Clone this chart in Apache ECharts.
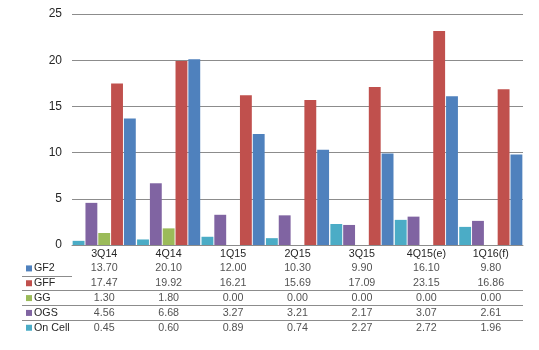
<!DOCTYPE html>
<html>
<head>
<meta charset="utf-8">
<script src="https://cdn.jsdelivr.net/npm/echarts@6/dist/echarts.min.js"></script>
<style>html,body{margin:0;padding:0;background:#fff}#c{width:539px;height:350px}</style>
</head>
<body>
<div id="c"></div>
<script>
const categories = ['3Q14', '4Q14', '1Q15', '2Q15', '3Q15', '4Q15(e)', '1Q16(f)'];
const gf2 = [13.70, 20.10, 12.00, 10.30, 9.90, 16.10, 9.80];
const gff = [17.47, 19.92, 16.21, 15.69, 17.09, 23.15, 16.86];
const gg = [1.30, 1.80, 0.00, 0.00, 0.00, 0.00, 0.00];
const ogs = [4.56, 6.68, 3.27, 3.21, 2.17, 3.07, 2.61];
const onCell = [0.45, 0.60, 0.89, 0.74, 2.27, 2.72, 1.96];
const tableRows = ['GF2', 'GFF', 'GG', 'OGS', 'On Cell'];

const colors = {
  'GF2': '#4F81BD', 'GFF': '#C0504D', 'GG': '#9BBB59', 'OGS': '#8064A2', 'On Cell': '#4BACC6'
};
const rowData = { 'GF2': gf2, 'GFF': gff, 'GG': gg, 'OGS': ogs, 'On Cell': onCell };
const barOrder = ['On Cell', 'OGS', 'GG', 'GFF', 'GF2'];

const FONT = 'Liberation Sans, Arial, sans-serif';
const TXT = '#262626';
const LINE = '#8c8c8c';

const tableCells = [];
tableRows.forEach((name, r) => {
  rowData[name].forEach((v, c) => tableCells.push([c, r, v]));
});

const rich = { t: { fontSize: 10.7, fontFamily: FONT, color: TXT, padding: [0, 0, 0, 2] } };
tableRows.forEach((name, i) => {
  rich['s' + i] = { width: 6, height: 6, backgroundColor: colors[name] };
});

const chart = echarts.init(document.getElementById('c'), null, { renderer: 'canvas' });
chart.setOption({
  animation: false,
  backgroundColor: '#fff',
  grid: [
    { left: 72, right: 16, top: 14, bottom: 105, containLabel: false },
    { left: 72, right: 16, top: 261, height: 97.8, containLabel: false }
  ],
  xAxis: [
    {
      type: 'category', gridIndex: 0, data: categories,
      axisLine: { show: true, lineStyle: { color: LINE, width: 1 } },
      axisTick: { show: false },
      axisLabel: { interval: 0, margin: 4, fontSize: 10.7, fontFamily: FONT, color: TXT }
    },
    {
      type: 'category', gridIndex: 1, data: categories, show: false
    }
  ],
  yAxis: [
    {
      type: 'value', gridIndex: 0, min: 0, max: 25, interval: 5,
      axisLine: { show: false }, axisTick: { show: false },
      splitLine: { show: true, lineStyle: { color: LINE, width: 1 } },
      axisLabel: { margin: 10, fontSize: 12, fontFamily: FONT, color: TXT }
    },
    {
      type: 'category', gridIndex: 1, inverse: true,
      data: tableRows.concat(['']),
      axisLine: { show: false },
      axisTick: {
        show: true, length: 50, inside: false,
        interval: (i) => i >= 1 && i <= 4,
        lineStyle: { color: LINE, width: 1 }
      },
      splitLine: {
        show: true, showMinLine: false, showMaxLine: false,
        interval: (i) => i >= 1 && i <= 4,
        lineStyle: { color: LINE, width: 1 }
      },
      axisLabel: {
        interval: 0,
        margin: 46, align: 'left',
        formatter: (v, i) => v === '' ? '' : '{s' + i + '|}{t|' + v + '}',
        rich: rich
      }
    }
  ],
  series: barOrder.map(name => ({
    name: name, type: 'bar', xAxisIndex: 0, yAxisIndex: 0,
    data: rowData[name],
    itemStyle: { color: colors[name] },
    barGap: '8%', barCategoryGap: '2%'
  })).concat([{
    type: 'scatter', xAxisIndex: 1, yAxisIndex: 1,
    data: tableCells, symbolSize: 1,
    itemStyle: { color: 'rgba(0,0,0,0)' },
    label: {
      show: true, position: 'inside',
      formatter: (p) => p.value[2].toFixed(2),
      fontSize: 10.7, fontFamily: FONT, color: TXT
    },
    silent: true
  }])
});
</script>
</body>
</html>
